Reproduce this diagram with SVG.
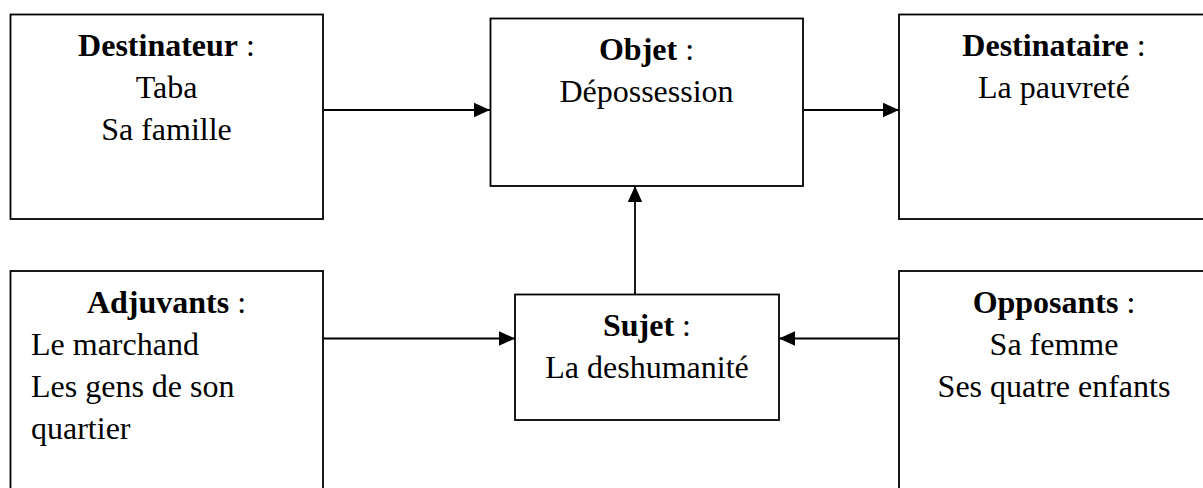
<svg xmlns="http://www.w3.org/2000/svg" width="1203" height="488" viewBox="0 0 1203 488">
<style>
.box{fill:#fff;stroke:#000;stroke-width:1.8}
.t{font-family:"Liberation Serif","Times New Roman",serif;font-size:32px;fill:#000}
.c{text-anchor:middle}
.b{font-weight:bold}
.con{stroke:#000;stroke-width:1.8;fill:none}
</style>
<defs>
<marker id="ah" markerUnits="userSpaceOnUse" markerWidth="16" markerHeight="16" viewBox="0 0 16 16" refX="16" refY="8" orient="auto">
<path d="M0,0.8 L16,8 L0,15.2 Z" fill="#000"/>
</marker>
</defs>
<rect width="1203" height="488" fill="#fff"/>
<g id="connectors">
<line class="con" x1="323" y1="110" x2="490" y2="110" marker-end="url(#ah)"/>
<line class="con" x1="803" y1="110" x2="899" y2="110" marker-end="url(#ah)"/>
<line class="con" x1="635" y1="294" x2="635" y2="186" marker-end="url(#ah)"/>
<line class="con" x1="323" y1="338.5" x2="515" y2="338.5" marker-end="url(#ah)"/>
<line class="con" x1="899" y1="338.5" x2="779" y2="338.5" marker-end="url(#ah)"/>
</g>
<g id="destinateur">
<rect class="box" x="10.5" y="14.5" width="312.5" height="204.5"/>
<text class="t c" x="166.5" y="56"><tspan class="b">Destinateur</tspan> :</text>
<text class="t c" x="166.5" y="98">Taba</text>
<text class="t c" x="166.5" y="140">Sa famille</text>
</g>
<g id="objet">
<rect class="box" x="490.5" y="18.5" width="312.5" height="167.5"/>
<text class="t c" x="646.5" y="60"><tspan class="b">Objet</tspan> :</text>
<text class="t c" x="646.5" y="102">Dépossession</text>
</g>
<g id="destinataire">
<rect class="box" x="899" y="14.5" width="313" height="204.5"/>
<text class="t c" x="1054" y="56"><tspan class="b">Destinataire</tspan> :</text>
<text class="t c" x="1054" y="98">La pauvreté</text>
</g>
<g id="adjuvants">
<rect class="box" x="10.5" y="271" width="312.5" height="240"/>
<text class="t c" x="166.5" y="313"><tspan class="b">Adjuvants</tspan> :</text>
<text class="t" x="31" y="355">Le marchand</text>
<text class="t" x="31" y="397">Les gens de son</text>
<text class="t" x="31" y="439">quartier</text>
</g>
<g id="sujet">
<rect class="box" x="515" y="294.5" width="264" height="125.5"/>
<text class="t c" x="647" y="336"><tspan class="b">Sujet</tspan> :</text>
<text class="t c" x="647" y="378">La deshumanité</text>
</g>
<g id="opposants">
<rect class="box" x="899" y="271" width="313" height="240"/>
<text class="t c" x="1054" y="313"><tspan class="b">Opposants</tspan> :</text>
<text class="t c" x="1054" y="355">Sa femme</text>
<text class="t c" x="1054" y="397">Ses quatre enfants</text>
</g>
</svg>
